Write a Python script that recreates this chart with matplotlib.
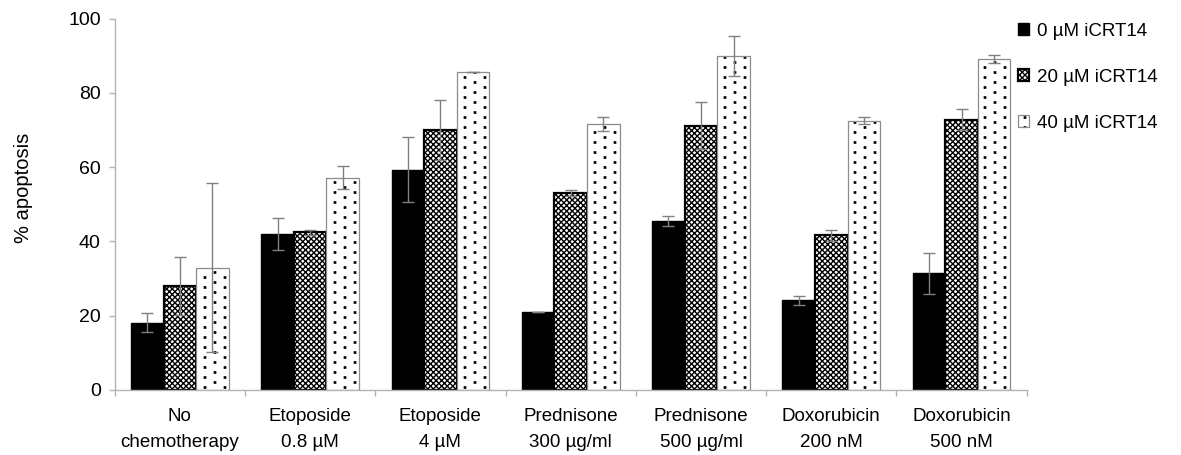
import numpy as np
import matplotlib
matplotlib.use("Agg")
import matplotlib.pyplot as plt
from matplotlib import hatch as mhatch
from matplotlib.path import Path
from matplotlib.ticker import FixedLocator

# ---- data -------------------------------------------------------------
categories = ["No\nchemotherapy", "Etoposide\n0.8 µM", "Etoposide\n4 µM",
              "Prednisone\n300 µg/ml", "Prednisone\n500 µg/ml",
              "Doxorubicin\n200 nM", "Doxorubicin\n500 nM"]
series_labels = ["0 µM iCRT14", "20 µM iCRT14", "40 µM iCRT14"]

apoptosis_0 = [18.1, 42.1, 59.3, 21.1, 45.5, 24.2, 31.4]
err_0 = [2.6, 4.3, 8.7, 0.0, 1.3, 1.2, 5.6]
apoptosis_20 = [28.0, 42.4, 69.9, 53.1, 71.1, 41.6, 72.8]
err_20 = [7.7, 0.6, 8.1, 0.8, 6.3, 1.4, 2.8]
apoptosis_40 = [32.9, 57.2, 85.7, 71.5, 89.9, 72.5, 89.0]
err_40 = [22.7, 3.0, 0.0, 1.9, 5.3, 0.9, 1.1]

y_ticks = [0, 20, 40, 60, 80, 100]


# ---- sparse staggered square-dot hatch (bound to the '*' character) ----
class SparseSquareDots(mhatch.HatchPatternBase):
    cols = 5
    rows = 20
    side = 0.013

    def __init__(self, hatch, density):
        self.num_vertices = self.cols * self.rows * 5 if '*' in hatch else 0

    def set_vertices_and_codes(self, vertices, codes):
        h = self.side / 2
        square = np.array([[-h, -h], [h, -h], [h, h], [-h, h], [-h, -h]])
        cur = 0
        for r in range(self.rows):
            y = (r + 0.5) / self.rows
            shift = 0.25 + 0.5 * (r % 2)
            for c in range(self.cols):
                x = (c + shift) / self.cols
                vertices[cur:cur + 5] = square + (x, y)
                codes[cur] = Path.MOVETO
                codes[cur + 1:cur + 4] = Path.LINETO
                codes[cur + 4] = Path.CLOSEPOLY
                cur += 5


mhatch._hatch_types[:] = [t for t in mhatch._hatch_types
                          if t is not mhatch.Stars] + [SparseSquareDots]

plt.rcParams['font.family'] = ['Liberation Sans', 'DejaVu Sans']
plt.rcParams['hatch.linewidth'] = 1.0

fig = plt.figure(figsize=(11.81, 4.55), dpi=100)
ax = fig.add_axes([0.0971, 0.1429, 0.8694 - 0.0971, 0.9593 - 0.1429])

x = np.arange(len(categories))
w = 0.25
axis_grey = '#b3b3b3'
err_grey = '#808080'
err_kw = dict(ecolor=err_grey, elinewidth=1.0, capsize=4.2, capthick=1.0, zorder=4)

b0 = ax.bar(x - w, apoptosis_0, w, color='black', edgecolor='black',
            linewidth=1.0, zorder=2)
b20 = ax.bar(x, apoptosis_20, w, color='white', edgecolor='black',
             linewidth=1.6, hatch='xxxxxx', zorder=2)
b40_fill = ax.bar(x + w, apoptosis_40, w, color='white', edgecolor='black',
                  linewidth=0, hatch='*', zorder=2)
b40_edge = ax.bar(x + w, apoptosis_40, w, fill=False, edgecolor='#8c8c8c',
                  linewidth=0.9, zorder=3)

ax.errorbar(x - w, apoptosis_0, yerr=err_0, fmt='none', **err_kw)
ax.errorbar(x, apoptosis_20, yerr=err_20, fmt='none', **err_kw)
ax.errorbar(x + w, apoptosis_40, yerr=err_40, fmt='none', **err_kw)

ax.set_xlim(-0.5, len(categories) - 0.5)
ax.set_ylim(0, 100)

for side in ('top', 'right'):
    ax.spines[side].set_visible(False)
for side in ('left', 'bottom'):
    ax.spines[side].set_color(axis_grey)
    ax.spines[side].set_linewidth(1.0)

ax.set_yticks(y_ticks)
ax.tick_params(axis='y', direction='out', length=4, width=1.0, color=axis_grey,
               labelsize=14, pad=6)
ax.set_xticks(x)
ax.set_xticklabels(categories, linespacing=1.7)
ax.xaxis.set_minor_locator(FixedLocator(np.arange(-0.5, len(categories), 1.0)))
ax.tick_params(axis='x', which='major', length=0, labelsize=13.5, pad=13)
ax.tick_params(axis='x', which='minor', direction='out', length=4, width=1.0,
               color=axis_grey)

ax.set_ylabel('% apoptosis', fontsize=14.5)
ax.yaxis.set_label_coords(-0.0896, 0.543)

leg = ax.legend([b0, b20, (b40_fill, b40_edge)], series_labels,
                loc='upper left', bbox_to_anchor=(1018 / 1181, 1 - 22.5 / 455),
                bbox_transform=fig.transFigure, frameon=False, fontsize=13.5,
                handlelength=0.6, handleheight=0.6, handletextpad=0.4,
                labelspacing=1.55, borderpad=0, borderaxespad=0)

fig.savefig('out.png', dpi=100)
